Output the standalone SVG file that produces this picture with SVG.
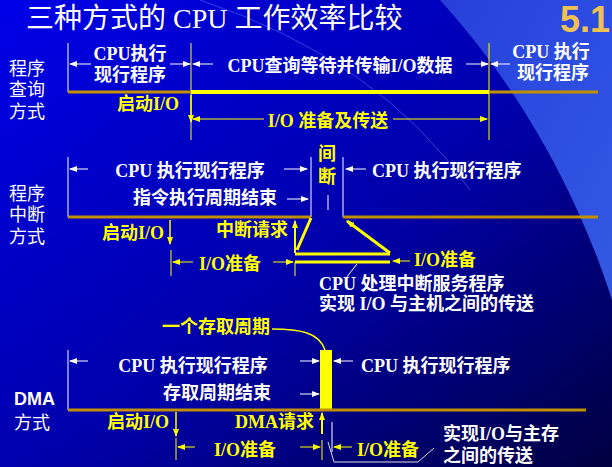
<svg xmlns="http://www.w3.org/2000/svg" width="612" height="467" viewBox="0 0 612 467">
<defs>
<linearGradient id="bg" x1="0" y1="0" x2="1" y2="1">
<stop offset="0" stop-color="#0000e8"/><stop offset="0.55" stop-color="#0000a8"/><stop offset="1" stop-color="#000040"/>
</linearGradient>
<linearGradient id="sw" x1="0" y1="0" x2="1" y2="1">
<stop offset="0" stop-color="#3050e0"/><stop offset="1" stop-color="#4070ff"/>
</linearGradient>
<marker id="aw" markerWidth="8" markerHeight="6" refX="7" refY="3" orient="auto" markerUnits="userSpaceOnUse"><path d="M0,0 L8,3 L0,6 Z" fill="#fff"/></marker>
<marker id="ay" markerWidth="8" markerHeight="6" refX="7" refY="3" orient="auto" markerUnits="userSpaceOnUse"><path d="M0,0 L8,3 L0,6 Z" fill="#ff0"/></marker>
<style>
text{font-family:"Liberation Serif","Noto Sans CJK SC",serif;font-weight:bold;font-size:18px}
.w{fill:#fff}.y{fill:#ff0}
.wl{stroke:#fff;stroke-width:1;fill:none}
.yl{stroke:#ff0;stroke-width:1;fill:none}
.br{stroke:#c09000;stroke-width:3}
.ya{stroke:#ff0;stroke-width:3;fill:none}
.lbl{font-family:"Liberation Sans","Noto Sans CJK SC",sans-serif;font-weight:normal;font-size:18px;fill:#fff}
</style>
</defs>
<rect width="612" height="467" fill="url(#bg)"/>
<path d="M440,0 L612,0 L612,300 C590,230 540,110 440,0 Z" fill="url(#sw)" opacity="0.8"/>
<path d="M200,0 Q380,60 470,190" stroke="#6080ff" stroke-width="1" fill="none" opacity="0.5"/>
<text x="26" y="28" class="w" style="font-size:28px;font-weight:normal">三种方式的 CPU 工作效率比较</text>
<text x="610" y="32" text-anchor="end" style="font-family:'Liberation Sans',sans-serif;font-size:36px;fill:#f0c050">5.1</text>

<g id="s1">
<text x="9" y="75" class="lbl">程序</text><text x="9" y="96" class="lbl">查询</text><text x="9" y="118" class="lbl">方式</text>
<line x1="68" y1="43" x2="68" y2="92" class="wl"/>
<line x1="191" y1="43" x2="191" y2="140" class="yl"/>
<line x1="489" y1="43" x2="489" y2="140" class="yl"/>
<line x1="68" y1="92" x2="191" y2="92" class="br"/>
<line x1="489" y1="92" x2="598" y2="92" class="br"/>
<line x1="191" y1="92" x2="489" y2="92" stroke="#ff0" stroke-width="4"/>
<text x="130" y="60" text-anchor="middle" class="w">CPU执行</text>
<text x="130" y="81" text-anchor="middle" class="w">现行程序</text>
<line x1="91" y1="64" x2="70" y2="64" class="wl" marker-end="url(#aw)"/>
<line x1="170" y1="64" x2="190" y2="64" class="wl" marker-end="url(#aw)"/>
<text x="340" y="72" text-anchor="middle" class="w">CPU查询等待并传输I/O数据</text>
<line x1="213" y1="64" x2="193" y2="64" class="wl" marker-end="url(#aw)"/>
<line x1="466" y1="64" x2="488" y2="64" class="wl" marker-end="url(#aw)"/>
<line x1="510" y1="64" x2="491" y2="64" class="wl" marker-end="url(#aw)"/>
<text x="551" y="58" text-anchor="middle" class="w">CPU 执行</text>
<text x="553" y="79" text-anchor="middle" class="w">现行程序</text>
<text x="117" y="110" class="y">启动I/O</text>
<line x1="191" y1="95" x2="191" y2="122" stroke="#ff0" stroke-width="1.5" marker-end="url(#ay)"/>
<text x="328" y="127" text-anchor="middle" class="y">I/O 准备及传送</text>
<line x1="264" y1="119" x2="193" y2="119" class="yl" marker-end="url(#ay)"/>
<line x1="393" y1="119" x2="487" y2="119" class="yl" marker-end="url(#ay)"/>
</g>

<g id="s2">
<text x="9" y="200" class="lbl">程序</text><text x="9" y="221" class="lbl">中断</text><text x="9" y="243" class="lbl">方式</text>
<line x1="68" y1="157" x2="68" y2="217" class="wl"/>
<line x1="311" y1="157" x2="311" y2="217" class="wl"/>
<line x1="343" y1="157" x2="343" y2="217" class="wl"/>
<line x1="68" y1="217" x2="311" y2="217" class="br"/>
<line x1="343" y1="217" x2="598" y2="217" class="br"/>
<text x="190" y="177" text-anchor="middle" class="w">CPU  执行现行程序</text>
<line x1="88" y1="169" x2="70" y2="169" class="wl" marker-end="url(#aw)"/>
<line x1="284" y1="169" x2="307" y2="169" class="wl" marker-end="url(#aw)"/>
<text x="327" y="160" text-anchor="middle" class="y">间</text>
<text x="327" y="183" text-anchor="middle" class="y">断</text>
<text x="205" y="204" text-anchor="middle" class="w">指令执行周期结束</text>
<line x1="287" y1="199" x2="308" y2="199" class="wl" marker-end="url(#aw)"/>
<line x1="328" y1="195" x2="328" y2="210" class="wl"/>
<line x1="366" y1="169" x2="346" y2="169" class="wl" marker-end="url(#aw)"/>
<text x="372" y="177" class="w">CPU  执行现行程序</text>
<text x="102" y="239" class="y">启动I/O</text>
<line x1="170" y1="220" x2="170" y2="244" stroke="#ff0" stroke-width="1.5" marker-end="url(#ay)"/>
<text x="216" y="236" class="y">中断请求</text>
<line x1="295" y1="253" x2="295" y2="221" stroke="#ff0" stroke-width="2" marker-end="url(#ay)"/>
<line x1="311" y1="218" x2="297" y2="250" class="ya"/>
<line x1="295" y1="254" x2="390" y2="254" class="ya"/>
<line x1="295" y1="262" x2="390" y2="262" class="ya"/>
<line x1="390" y1="253" x2="347" y2="221" class="ya" marker-end="url(#ay)"/>
<line x1="410" y1="261" x2="393" y2="261" class="yl" marker-end="url(#ay)"/>
<text x="414" y="266" class="y">I/O准备</text>
<line x1="171" y1="250" x2="171" y2="276" class="yl"/>
<line x1="295" y1="262" x2="295" y2="276" class="yl"/>
<line x1="193" y1="262" x2="173" y2="262" class="yl" marker-end="url(#ay)"/>
<line x1="273" y1="262" x2="293" y2="262" class="yl" marker-end="url(#ay)"/>
<text x="199" y="270" class="y">I/O准备</text>
<line x1="357" y1="264" x2="346" y2="278" class="wl"/>
<text x="319" y="290" class="w">CPU 处理中断服务程序</text>
<text x="319" y="310" class="w">实现 I/O 与主机之间的传送</text>
</g>

<g id="s3">
<text x="162" y="333" class="y">一个存取周期</text>
<path d="M272,329 C299,329 319,332 325,350" stroke="#ff0" stroke-width="1.5" fill="none"/>
<rect x="320" y="350" width="12" height="61" fill="#ff0"/>
<line x1="68" y1="350" x2="68" y2="410" class="wl"/>
<line x1="68" y1="410" x2="586" y2="410" class="br"/>
<text x="193" y="372" text-anchor="middle" class="w">CPU  执行现行程序</text>
<line x1="88" y1="361" x2="70" y2="361" class="wl" marker-end="url(#aw)"/>
<line x1="300" y1="361" x2="319" y2="361" class="wl" marker-end="url(#aw)"/>
<line x1="353" y1="361" x2="334" y2="361" class="wl" marker-end="url(#aw)"/>
<text x="361" y="372" class="w">CPU  执行现行程序</text>
<text x="163" y="399" class="w">存取周期结束</text>
<line x1="300" y1="394" x2="319" y2="394" class="wl" marker-end="url(#aw)"/>
<text x="14" y="405" class="w" style="font-family:'Liberation Sans',sans-serif">DMA</text>
<text x="14" y="429" class="lbl">方式</text>
<text x="107" y="428" class="y">启动I/O</text>
<line x1="176" y1="412" x2="176" y2="436" stroke="#ff0" stroke-width="1.5" marker-end="url(#ay)"/>
<text x="235" y="428" class="y">DMA请求</text>
<line x1="322" y1="434" x2="322" y2="413" stroke="#ff0" stroke-width="2" marker-end="url(#ay)"/>
<line x1="332" y1="422" x2="332" y2="452" class="wl"/>
<line x1="176" y1="438" x2="176" y2="460" class="yl"/>
<line x1="322" y1="440" x2="322" y2="460" class="yl"/>
<line x1="195" y1="447" x2="178" y2="447" class="yl" marker-end="url(#ay)"/>
<line x1="300" y1="447" x2="320" y2="447" class="yl" marker-end="url(#ay)"/>
<text x="214" y="456" class="y">I/O准备</text>
<line x1="352" y1="447" x2="334" y2="447" class="yl" marker-end="url(#ay)"/>
<text x="357" y="456" class="y">I/O准备</text>
<text x="443" y="440" class="w">实现I/O与主存</text>
<text x="443" y="462" class="w">之间的传送</text>
<path d="M434,448 L418,462 L334,462 L328,442" stroke="#ddd" stroke-width="1" fill="none"/>
</g>
</svg>
